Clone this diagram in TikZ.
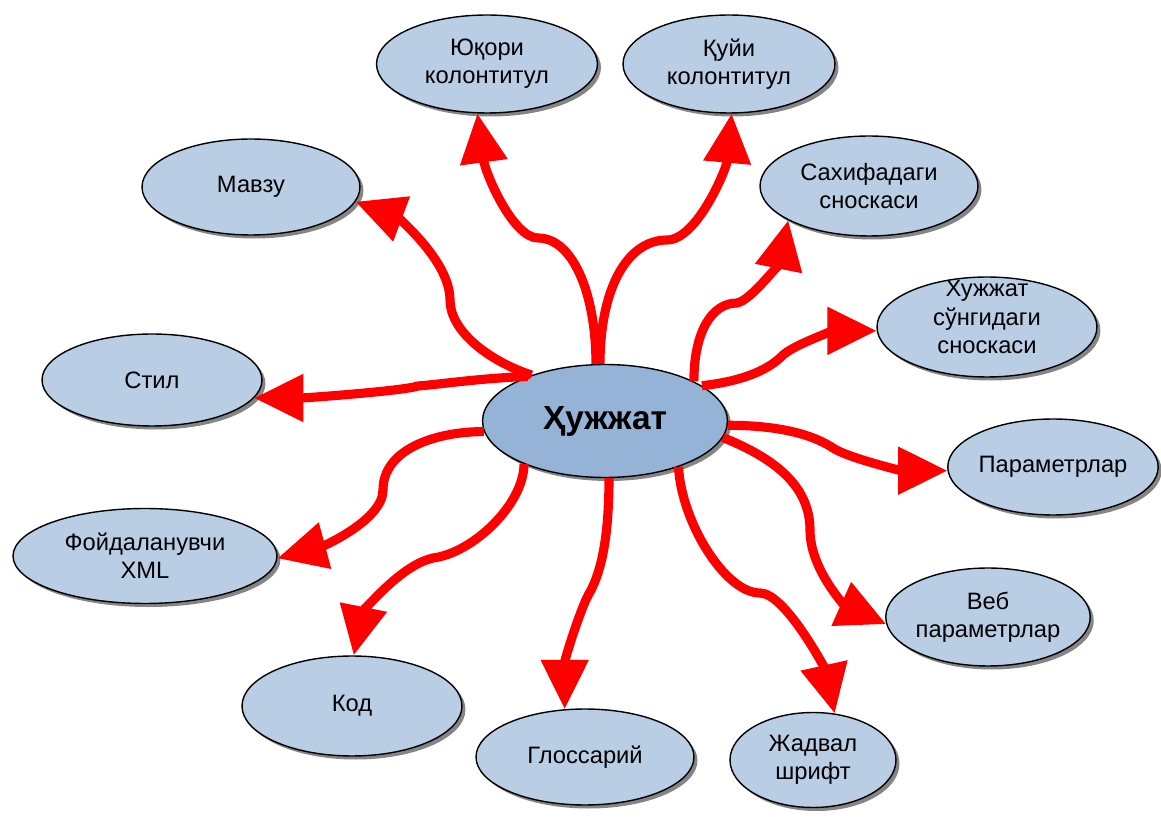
\documentclass[tikz,border=0pt]{standalone}
\usepackage{fontspec}
\setmainfont{Liberation Sans}
\usetikzlibrary{arrows.meta,shapes.geometric,shadows}
\definecolor{leafblue}{HTML}{B9CDE5}
\definecolor{hubblue}{HTML}{95B3D7}
\definecolor{linkred}{HTML}{FF0000}
\begin{document}
\begin{tikzpicture}[
    x=0.02cm, y=-0.02cm,
    bubble/.style={ellipse, draw=black, thick, inner sep=0pt, align=center,
        drop shadow={shadow xshift=2pt, shadow yshift=-2pt, fill=black!60, opacity=.8}},
    leaf/.style={bubble, fill=leafblue, font=\fontsize{13.5}{16}\selectfont},
    hub/.style={bubble, fill=hubblue, font=\bfseries\fontsize{19}{23}\selectfont},
    link/.style={draw=linkred, line width=5.2pt, -{Triangle[length=28pt,width=26pt]}}
]
    \useasboundingbox (0,0) rectangle (1161,817);
    % centre
    \node[hub, minimum width=4.9cm, minimum height=2.26cm] (hub) at (605,421) {Ҳужжат};
    % outer ring
    \node[leaf, minimum width=4.42cm, minimum height=1.96cm] (yuqori) at (487,64) {Юқори\\колонтитул};
    \node[leaf, minimum width=4.24cm, minimum height=1.96cm] (quyi) at (729,64) {Қуйи\\колонтитул};
    \node[leaf, minimum width=4.36cm, minimum height=1.92cm] (mavzu) at (251,187) {Мавзу};
    \node[leaf, minimum width=4.36cm, minimum height=2.0cm] (sahifa) at (869,186) {Сахифадаги\\сноскаси};
    \node[leaf, minimum width=4.4cm, minimum height=2.0cm,
        path picture={\node[align=center, inner sep=0pt, font=\fontsize{13.5}{16}\selectfont]
            at ([yshift=0.2cm]path picture bounding box.center) {Хужжат\\сўнгидаги\\сноскаси};}] (sungida) at (987,327) {};
    \node[leaf, minimum width=4.4cm, minimum height=1.84cm] (stil) at (152,380) {Стил};
    \node[leaf, minimum width=4.16cm, minimum height=1.92cm] (param) at (1053,467) {Параметрлар};
    \node[leaf, minimum width=5.28cm, minimum height=1.9cm] (foyda) at (145,556) {Фойдаланувчи\\XML};
    \node[leaf, minimum width=3.92cm, minimum height=1.96cm] (veb) at (988,617) {Веб\\параметрлар};
    \node[leaf, minimum width=4.4cm, minimum height=2.0cm] (kod) at (352,706) {Код};
    \node[leaf, minimum width=4.36cm, minimum height=1.92cm] (gloss) at (585,757) {Глоссарий};
    \node[leaf, minimum width=3.32cm, minimum height=1.9cm] (jadval) at (813,760) {Жадвал\\шрифт};
    % links
    \draw[link] (hub.99) .. controls +(0,-70) and +(35,0) .. (538,238) .. controls +(-25,0) and +(8,60) .. (yuqori.259);
    \draw[link] (hub.95) .. controls +(0,-75) and +(-40,0) .. (667,240) .. controls +(30,0) and +(-5,55) .. (quyi.273);
    \draw[link] (hub.148) .. controls +(-45,-15) and +(0,30) .. (450,300) .. controls +(0,-40) and +(40,15) .. (mavzu.352);
    \draw[link] (hub.24) .. controls +(0,-50) and +(-25,0) .. (737,303) .. controls +(15,-3) and +(-8,40) .. (sahifa.203);
    \draw[link] (hub.20) .. controls +(45,-5) and +(-12,12) .. (782,356) .. controls +(12,-12) and +(-40,0) .. (sungida.182);
    \draw[link] (hub.150) .. controls +(-50,2) and +(25,-2) .. (418,386) .. controls +(-15,5) and +(50,0) .. (stil.350);
    \draw[link] (hub.-2) .. controls +(60,0) and +(-15,-10) .. (833,448) .. controls +(15,10) and +(-45,0) .. (param.182);
    \draw[link] (hub.185) .. controls +(-50,0) and +(0,-40) .. (383,490) .. controls +(0,30) and +(45,-12) .. (foyda.359);
    \draw[link] (hub.-8) .. controls +(50,20) and +(0,-45) .. (810,530) .. controls +(0,40) and +(-40,-18) .. (veb.184);
    \draw[link] (hub.208) .. controls +(0,40) and +(40,-5) .. (433,558) .. controls +(-35,8) and +(8,-40) .. (kod.88);
    \draw[link] (hub.-86) .. controls +(0,70) and +(8,-15) .. (590,592) .. controls +(-8,12) and +(0,-50) .. (gloss.113);
    \draw[link] (hub.-32) .. controls +(3,55) and +(-35,0) .. (760,593) .. controls +(25,0) and +(-10,-45) .. (jadval.65);
\end{tikzpicture}
\end{document}
